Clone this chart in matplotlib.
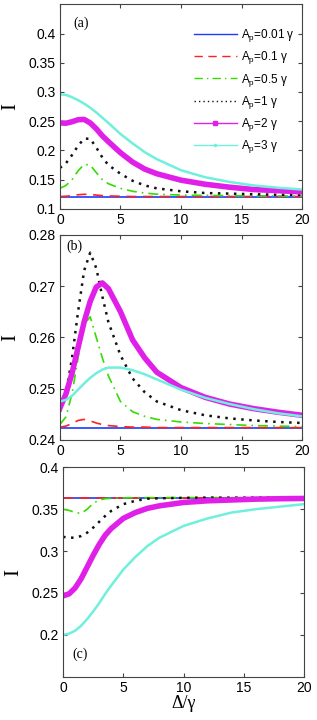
import matplotlib
matplotlib.use('Agg')
import matplotlib.pyplot as plt
from matplotlib.lines import Line2D

# Detuning grid (Delta/gamma)
x = [0, 0.5, 1, 1.5, 2, 2.5, 3, 3.5, 4, 5, 6, 7, 8, 10, 12, 14, 16, 18, 20]

labels = [r'A$_\mathregular{p}$=0.01 γ', r'A$_\mathregular{p}$=0.1 γ',
          r'A$_\mathregular{p}$=0.5 γ', r'A$_\mathregular{p}$=1 γ',
          r'A$_\mathregular{p}$=2 γ', r'A$_\mathregular{p}$=3 γ']

# panel (a)
a_001 = [0.121] * 19
a_01 = [0.121, 0.1215, 0.1225, 0.124, 0.1248, 0.1245, 0.1235, 0.1225, 0.122, 0.1215,
        0.121, 0.121, 0.121, 0.121, 0.121, 0.121, 0.121, 0.121, 0.121]
a_05 = [0.135, 0.14, 0.15, 0.165, 0.176, 0.175, 0.162, 0.150, 0.143, 0.135,
        0.130, 0.127, 0.125, 0.1235, 0.123, 0.1225, 0.122, 0.122, 0.1215]
a_1 = [0.170, 0.178, 0.192, 0.208, 0.220, 0.220, 0.205, 0.188, 0.175, 0.160,
       0.148, 0.140, 0.135, 0.130, 0.127, 0.126, 0.125, 0.124, 0.124]
a_2 = [0.247, 0.2465, 0.249, 0.2525, 0.253, 0.247, 0.237, 0.225, 0.215, 0.196,
       0.180, 0.168, 0.160, 0.149, 0.142, 0.137, 0.133, 0.131, 0.129]
a_3 = [0.296, 0.295, 0.291, 0.286, 0.280, 0.273, 0.265, 0.256, 0.247, 0.228,
       0.212, 0.197, 0.185, 0.166, 0.154, 0.146, 0.140, 0.136, 0.133]

# panel (b)
b_001 = [0.2423] * 19
b_01 = [0.2425, 0.2427, 0.2432, 0.2438, 0.244, 0.2437, 0.2433, 0.243, 0.2428, 0.2426,
        0.2425, 0.2425, 0.2424, 0.2424, 0.2424, 0.2424, 0.2424, 0.2424, 0.2424]
b_05 = [0.2430, 0.2445, 0.2490, 0.2560, 0.2625, 0.2640, 0.2600, 0.2560, 0.2525, 0.2475,
        0.2455, 0.2446, 0.2440, 0.2435, 0.2432, 0.2430, 0.2428, 0.2427, 0.2426]
b_1 = [0.2455, 0.2490, 0.2560, 0.2650, 0.2730, 0.2765, 0.2735, 0.2680, 0.2630, 0.2565,
       0.2520, 0.2493, 0.2475, 0.2458, 0.2448, 0.2442, 0.2438, 0.2435, 0.2433]
b_2 = [0.2462, 0.2490, 0.2530, 0.2580, 0.2630, 0.2670, 0.2698, 0.2706, 0.2695, 0.2650,
       0.2595, 0.2560, 0.2532, 0.2502, 0.2483, 0.2470, 0.2461, 0.2454, 0.2448]
b_3 = [0.2475, 0.2478, 0.2486, 0.2498, 0.2510, 0.2521, 0.2530, 0.2537, 0.2541, 0.2541,
       0.2536, 0.2528, 0.2518, 0.2498, 0.2482, 0.2470, 0.2460, 0.2452, 0.2446]

# panel (c)
c_001 = [0.3638] * 19
c_01 = [0.3638] * 19
c_05 = [0.350, 0.3485, 0.346, 0.345, 0.350, 0.357, 0.361, 0.3625, 0.363, 0.3635,
        0.3638, 0.3638, 0.3638, 0.3638, 0.3638, 0.3638, 0.3638, 0.3638, 0.3638]
c_1 = [0.317, 0.316, 0.316, 0.318, 0.322, 0.328, 0.335, 0.342, 0.348, 0.356,
       0.360, 0.3625, 0.363, 0.3635, 0.3638, 0.3638, 0.3638, 0.3638, 0.3638]
c_2 = [0.2466, 0.249, 0.256, 0.267, 0.281, 0.295, 0.308, 0.319, 0.327, 0.339,
       0.346, 0.351, 0.354, 0.358, 0.360, 0.361, 0.362, 0.3625, 0.3628]
c_3 = [0.200, 0.2015, 0.205, 0.211, 0.219, 0.228, 0.238, 0.249, 0.259, 0.278,
       0.293, 0.306, 0.316, 0.330, 0.339, 0.346, 0.350, 0.353, 0.356]

colors = ['#1a3cff', '#ff2020', '#33dd00', '#111111', '#e020e8', '#70f0dc']
styles = ['-', (0, (6, 4)), (0, (6, 3, 1, 3)), (0, (1, 2.2)), '-', '-']
widths = [1.2, 1.2, 1.2, 1.8, 4.0, 1.8]

plt.rcParams['font.family'] = ['Liberation Sans', 'DejaVu Sans']
fig = plt.figure(figsize=(3.17, 7.2), dpi=100)
ax_a = fig.add_axes([0.189, 0.710, 0.764, 0.284])
ax_b = fig.add_axes([0.189, 0.389, 0.764, 0.285])
ax_c = fig.add_axes([0.199, 0.060, 0.760, 0.291])

panels = [(ax_a, [a_001, a_01, a_05, a_1, a_2, a_3]),
          (ax_b, [b_001, b_01, b_05, b_1, b_2, b_3]),
          (ax_c, [c_001, c_01, c_05, c_1, c_2, c_3])]

for ax, series in panels:
    for y, c, ls, lw in zip(series, colors, styles, widths):
        ax.plot(x, y, color=c, linestyle=ls, linewidth=lw)
    ax.set_xlim(0, 20)
    ax.set_xticks([0, 5, 10, 15, 20])
    ax.tick_params(direction='in', top=True, right=True, labelsize=10, length=3,
                   color='#444444', pad=3)
    for s in ax.spines.values():
        s.set_color('#444444')
    ax.set_ylabel('I', family='Liberation Serif', fontsize=15, labelpad=6)

ax_a.set_ylim(0.1, 0.45)
ax_a.set_yticks([0.1, 0.15, 0.2, 0.25, 0.3, 0.35, 0.4])
ax_a.set_yticklabels(['0.1', '0.15', '0.2', '0.25', '0.3', '0.35', '0.4'])
ax_b.set_ylim(0.24, 0.28)
ax_b.set_yticks([0.24, 0.25, 0.26, 0.27, 0.28])
ax_b.set_yticklabels(['0.24', '0.25', '0.26', '0.27', '0.28'])
ax_c.set_ylim(0.15, 0.4)
ax_c.set_yticks([0.2, 0.25, 0.3, 0.35, 0.4])
ax_c.set_yticklabels(['0.2', '0.25', '0.3', '0.35', '0.4'])

ax_a.text(1.1, 0.418, '(a)', family='Liberation Serif', fontsize=10, va='center')
ax_b.text(0.5, 0.2778, '(b)', family='Liberation Serif', fontsize=10, va='center')
ax_c.text(0.75, 0.177, '(c)', family='Liberation Serif', fontsize=10, va='center')
ax_c.set_xlabel('Δ/γ', family='Liberation Serif', fontsize=13, labelpad=0)

# legend with thin proxy lines (markers as in the original)
markers = ['', '', '', '', 's', '.']
handles = [Line2D([], [], color=c, linestyle=ls, linewidth=1.0, marker=m, markersize=3)
           for c, ls, m in zip(colors, styles, markers)]
ax_a.legend(handles, labels, loc='upper left', bbox_to_anchor=(0.52, 0.93), frameon=False,
            fontsize=8.5, handlelength=3.6, handletextpad=0.4, labelspacing=0.45,
            borderpad=0.2)

fig.savefig('out.png', dpi=100)
